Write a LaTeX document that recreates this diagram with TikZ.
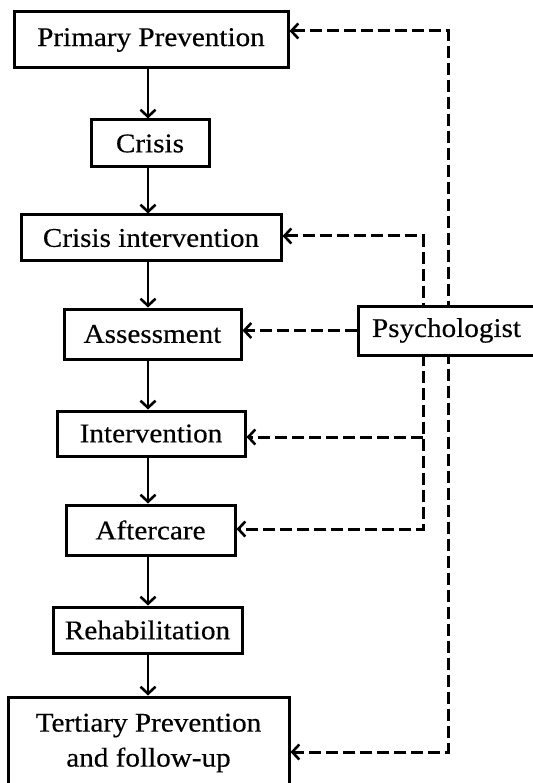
\documentclass[tikz,border=0pt]{standalone}
\usepackage{fontspec}
\setmainfont[FakeStretch=1.08,FakeBold=0.4]{Liberation Serif}
\usetikzlibrary{arrows.meta,backgrounds}
\begin{document}
\begin{tikzpicture}[x=1pt,y=-1pt,
  stage/.style={draw,line width=3pt,inner sep=0pt,align=center,
    font=\fontsize{27}{35}\selectfont},
  barb/.tip={Straight Barb[length=7pt,width=15pt,line width=2.6pt]},
  tip/.style={-barb},
  flow/.style={line width=2.5pt,tip},
  link/.style={line width=3pt,dash pattern=on 12pt off 5pt}]
\useasboundingbox (0,0) rectangle (532,783);

% main sequence of stages
\node[stage,minimum width=274pt,minimum height=56pt] (prim)   at (151,40)    {Primary Prevention};
\node[stage,minimum width=118pt,minimum height=47pt] (crisis) at (150,143.5) {Crisis};
\node[stage,minimum width=260pt,minimum height=46pt] (ci)     at (151,238)   {Crisis intervention};
\node[stage,minimum width=177pt,minimum height=50pt] (assess) at (152.5,334) {Assessment};
\node[stage,minimum width=188pt,minimum height=45pt] (interv) at (151,433.5) {Intervention};
\node[stage,minimum width=169pt,minimum height=50pt] (after)  at (150.5,530) {Aftercare};
\node[stage,minimum width=189pt,minimum height=46pt] (rehab)  at (147.5,630) {Rehabilitation};
\node[stage,minimum width=281pt,minimum height=92pt] (tert)   at (148.5,743) {Tertiary Prevention\\and follow-up};

% the psychologist, drawn over the dashed lines
\node[stage,fill=white,minimum width=177pt,minimum height=49pt] (psy) at (446.5,330.5) {Psychologist};

% solid arrows down the central column
\coordinate (col) at (148,0);
\foreach \a/\b in {prim/crisis,crisis/ci,ci/assess,assess/interv,interv/after,after/rehab,rehab/tert}
  \draw[flow] (\a.south -| col) -- (\b.north -| col);

% dashed links from the psychologist
\begin{scope}[on background layer]
  \coordinate (o1) at (448,31);
  \coordinate (o2) at (448,752);
  \coordinate (i1) at (423,236);
  \coordinate (i2) at (423,529);
  \coordinate (i3) at (423,437);
  \draw[link,barb-barb] (prim.east |- o1) -- (o1) -- (o2) -- (tert.east |- o2);
  \draw[link,barb-barb] (ci.east |- i1) -- (i1) -- (i2) -- (after.east |- i2);
  \draw[link,tip] (i3) -- (interv.east |- i3);
  \draw[link,tip] (psy.west) -- (assess.east |- psy.west);
\end{scope}
\end{tikzpicture}
\end{document}
